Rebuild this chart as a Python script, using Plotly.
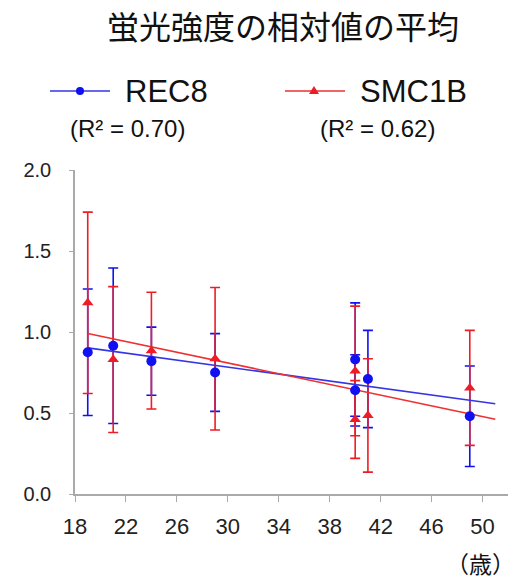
import numpy as np
import plotly.graph_objects as go

# ---- data ----
ages = [19, 21, 24, 29, 40, 40, 41, 49]
rec8 = [0.875, 0.915, 0.82, 0.75, 0.83, 0.64, 0.71, 0.48]
rec8_err = [0.39, 0.48, 0.21, 0.24, 0.35, 0.22, 0.30, 0.31]
smc1b = [1.18, 0.83, 0.885, 0.835, 0.76, 0.46, 0.485, 0.655]
smc1b_err = [0.56, 0.45, 0.36, 0.44, 0.40, 0.24, 0.35, 0.355]
trend_span = [19, 51]
x_ticks = [18, 22, 26, 30, 34, 38, 42, 46, 50]
y_ticks = [0.0, 0.5, 1.0, 1.5, 2.0]
series_names = ["REC8", "SMC1B"]
r2_labels = ["(R² = 0.70)", "(R² = 0.62)"]
title_text = "蛍光強度の相対値の平均"
x_unit = "（歳）"

BLUE = "#1010f0"
RED = "#ee1c24"
BLUE_L = "#3535e6"
RED_L = "#ee3030"

W, H = 515, 582
L, R, T, B = 75, 7, 170, 88
pw, ph = W - L - R, H - T - B


def px(xp):
    return (xp - L) / pw


def py(yp):
    return (H - B - yp) / ph


fig = go.Figure()

# error bars
for vals, errs, col in [(rec8, rec8_err, BLUE), (smc1b, smc1b_err, RED)]:
    fig.add_trace(go.Scatter(
        x=ages, y=vals, mode="markers",
        marker=dict(size=1, color="rgba(0,0,0,0)"),
        error_y=dict(type="data", array=errs, visible=True, color=col,
                     thickness=1.6, width=5),
        showlegend=False, hoverinfo="skip"))

# trend lines (least squares)
for vals, col in [(rec8, BLUE_L), (smc1b, RED_L)]:
    k, b0 = np.polyfit(ages, vals, 1)
    tx = np.array(trend_span, dtype=float)
    fig.add_trace(go.Scatter(x=tx, y=k * tx + b0, mode="lines",
                             line=dict(color=col, width=1.6),
                             showlegend=False, hoverinfo="skip"))

# markers
fig.add_trace(go.Scatter(x=ages, y=rec8, mode="markers",
                         marker=dict(symbol="circle", size=10, color=BLUE),
                         showlegend=False))
fig.add_trace(go.Scatter(x=ages, y=smc1b, mode="markers",
                         marker=dict(symbol="triangle-up", size=10, color=RED),
                         showlegend=False))

shapes = []
annotations = []

# custom legend
leg = [
    dict(x0=50, x1=110, cx=80, col=BLUE_L, mcol=BLUE, sym="circle", tx=123, rx=127),
    dict(x0=285, x1=345, cx=314, col=RED_L, mcol=RED, sym="tri", tx=358, rx=377),
]
ly = 91
for i, d in enumerate(leg):
    shapes.append(dict(type="line", xref="paper", yref="paper",
                       x0=px(d["x0"]), x1=px(d["x1"]), y0=py(ly), y1=py(ly),
                       line=dict(color=d["col"], width=2), opacity=0.75))
    if d["sym"] == "circle":
        shapes.append(dict(type="circle", xref="paper", yref="paper",
                           xsizemode="pixel", ysizemode="pixel",
                           xanchor=px(d["cx"]), yanchor=py(ly),
                           x0=-4, x1=4, y0=-4, y1=4,
                           fillcolor=d["mcol"], line=dict(width=0)))
    else:
        shapes.append(dict(type="path", xref="paper", yref="paper",
                           xsizemode="pixel", ysizemode="pixel",
                           xanchor=px(d["cx"]), yanchor=py(ly),
                           path="M-5,-3 L5,-3 L0,5 Z",
                           fillcolor=d["mcol"], line=dict(width=0)))
    annotations.append(dict(text=series_names[i], xref="paper", yref="paper",
                            x=px(d["tx"]), y=py(ly), xanchor="left", yanchor="middle",
                            showarrow=False,
                            font=dict(family="Liberation Sans, Arial", size=31, color="#111")))
    annotations.append(dict(text=r2_labels[i], xref="paper", yref="paper",
                            x=px(d["rx"]), y=py(128), xanchor="center", yanchor="middle",
                            showarrow=False,
                            font=dict(family="Liberation Sans, Arial", size=24, color="#111")))

annotations.append(dict(text=title_text, xref="paper", yref="paper",
                        x=px(283), y=py(25), xanchor="center", yanchor="middle",
                        showarrow=False,
                        font=dict(family="Noto Sans CJK JP", size=32, color="#111")))
annotations.append(dict(text=x_unit, xref="paper", yref="paper",
                        x=px(517), y=py(563), xanchor="right", yanchor="middle",
                        showarrow=False,
                        font=dict(family="Noto Sans CJK JP", size=23, color="#111")))

fig.update_layout(
    width=W, height=H,
    margin=dict(l=L, r=R, t=T, b=B, pad=0),
    paper_bgcolor="white", plot_bgcolor="white",
    shapes=shapes, annotations=annotations,
    showlegend=False,
    xaxis=dict(range=[18, 52], tickvals=x_ticks, ticks="outside", ticklen=6,
               tickcolor="#aaa", tickwidth=1.2,
               showline=True, linecolor="#aaa", linewidth=1.5,
               showgrid=False, zeroline=False,
               tickfont=dict(family="Liberation Sans, Arial", size=22, color="#222"),
               ticklabelstandoff=6),
    yaxis=dict(range=[0, 2.0], tickvals=y_ticks, tickformat=".1f",
               ticks="outside", ticklen=4, tickcolor="#aaa", tickwidth=1.2,
               showline=True, linecolor="#aaa", linewidth=1.5,
               showgrid=False, zeroline=False,
               tickfont=dict(family="Liberation Sans, Arial", size=20, color="#222"),
               ticklabelstandoff=14),
)

fig.write_html("out.html", config={"displayModeBar": False},
               post_script="document.body.style.margin='0';document.body.style.overflow='hidden';")
